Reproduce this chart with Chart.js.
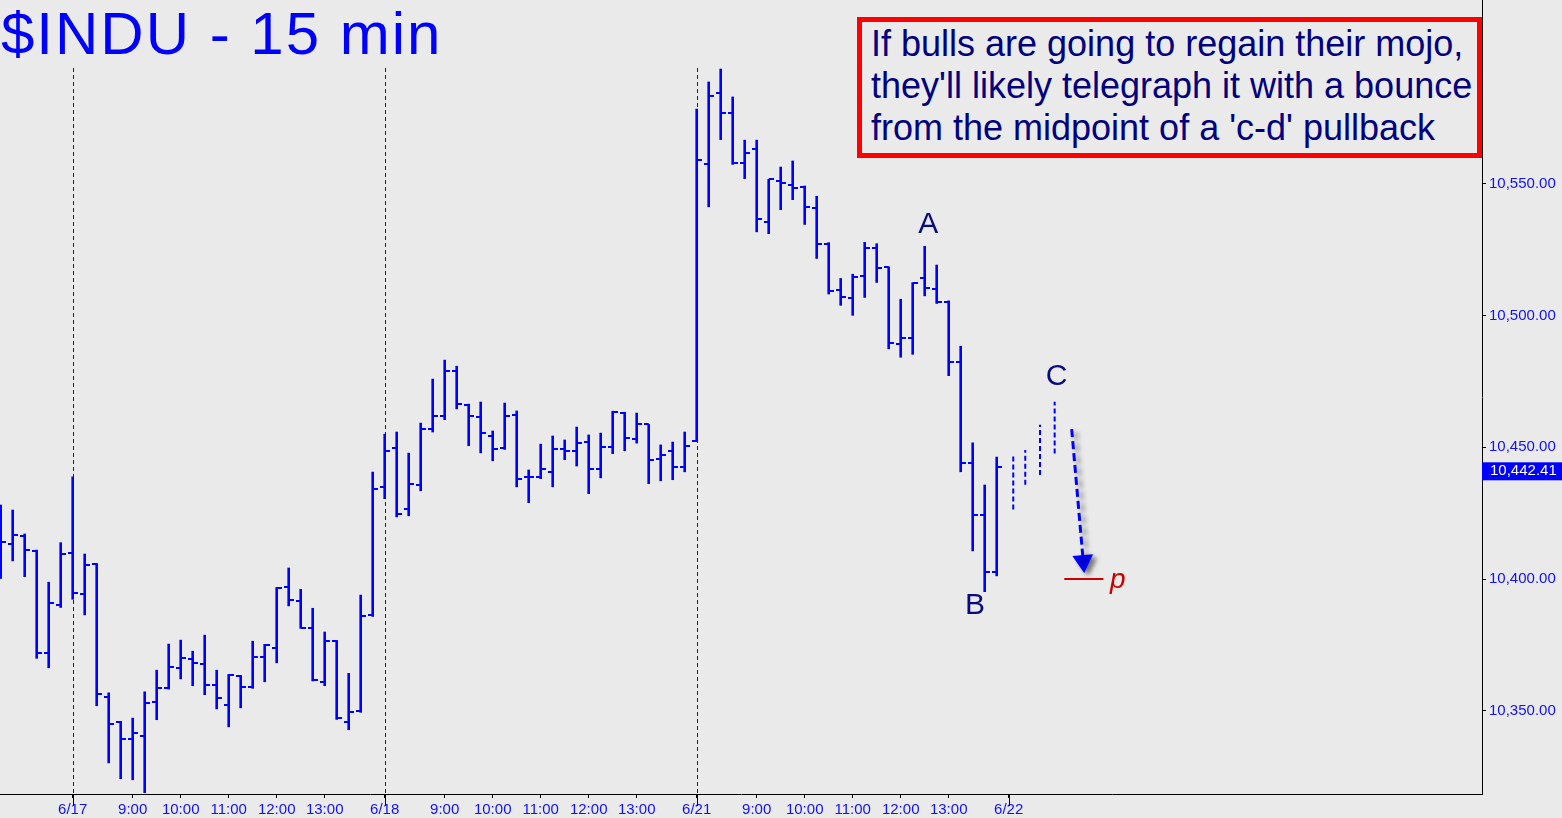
<!DOCTYPE html>
<html>
<head>
<meta charset="utf-8">
<script src="https://cdn.jsdelivr.net/npm/chart.js@4.4.1/dist/chart.umd.min.js"></script>
<style>
  html, body { margin: 0; padding: 0; background: #eaeaea; }
  #wrap { position: relative; width: 1562px; height: 818px; overflow: hidden; background: #eaeaea; }
  #chart { position: absolute; left: 0; top: 0; }
  #title {
    position: absolute; left: 1px; top: 4px;
    font: 60px "Liberation Sans", Arial, sans-serif; line-height: 60px;
    letter-spacing: 2px; color: #0000ff; white-space: nowrap;
  }
  #note {
    position: absolute; left: 857px; top: 17px;
    border: 5px solid #ff0000; box-sizing: content-box;
    font: 36px "Liberation Sans", Arial, sans-serif; line-height: 42px;
    color: #000080; padding: 1px 0 0 9px; width: 606px; height: 130px;
    white-space: nowrap; background: #eaeaea;
  }
</style>
</head>
<body>
<div id="wrap">
  <canvas id="chart" width="1562" height="818"></canvas>
  <div id="title">$INDU - 15 min</div>
  <div id="note">If bulls are going to regain their mojo,<br>they'll likely telegraph it with a bounce<br>from the midpoint of a 'c-d' pullback</div>
</div>
<script>
// 15-minute bars, one per slot, index = bar number
const openP = [10420.0, 10413.3, 10416.4, 10410.7, 10371.9, 10390.1, 10410.0, 10394.3, 10405.8, 10355.3,
  10345.8, 10339.4, 10340.5, 10353.4, 10358.5, 10366.3, 10369.7, 10367.7, 10359.7, 10352.3,
  10363.2, 10359.0, 10370.4, 10373.9, 10397.1, 10391.6, 10381.5, 10360.9, 10376.6, 10345.7,
  10349.9, 10386.2, 10435.0, 10449.8, 10426.6, 10435.7, 10456.9, 10461.9, 10479.1, 10466.0,
  10461.5, 10454.3, 10449.7, 10462.2, 10438.7, 10438.7, 10440.7, 10449.3, 10448.6, 10452.0,
  10441.7, 10450.1, 10463.1, 10453.1, 10458.7, 10445.5, 10448.6, 10442.5, 10452.4, 10557.5,
  10584.6, 10577.0, 10557.9, 10563.3, 10535.5, 10551.2, 10549.6, 10548.7, 10541.0, 10527.2,
  10509.6, 10506.7, 10515.0, 10525.8, 10518.3, 10489.2, 10491.5, 10514.4, 10510.2, 10505.1,
  10482.4, 10443.9, 10424.3, 10402.8];
const highP = [10428.1, 10426.2, 10417.1, 10411.0, 10398.8, 10413.8, 10438.8, 10409.5, 10405.9, 10356.8,
  10346.0, 10347.2, 10357.2, 10365.4, 10375.3, 10376.8, 10372.6, 10378.7, 10365.4, 10363.8,
  10363.4, 10376.4, 10375.2, 10396.8, 10404.2, 10396.1, 10388.9, 10379.9, 10376.7, 10364.2,
  10393.9, 10440.6, 10455.0, 10455.8, 10447.8, 10459.2, 10475.9, 10483.1, 10480.8, 10466.4,
  10467.2, 10456.2, 10466.8, 10463.8, 10441.4, 10451.2, 10454.3, 10452.8, 10457.7, 10454.7,
  10455.4, 10463.7, 10463.3, 10463.0, 10458.7, 10450.9, 10452.0, 10455.8, 10578.4, 10588.7,
  10593.6, 10583.0, 10566.6, 10566.6, 10551.7, 10556.4, 10558.7, 10549.2, 10545.3, 10527.7,
  10514.1, 10515.7, 10527.8, 10527.3, 10518.5, 10506.2, 10512.5, 10526.3, 10519.2, 10505.6,
  10488.4, 10451.7, 10435.7, 10446.3];
const lowP = [10400.2, 10406.9, 10400.9, 10369.9, 10366.3, 10389.2, 10392.3, 10386.4, 10351.9, 10330.2,
  10324.2, 10323.8, 10318.9, 10346.6, 10358.2, 10362.1, 10359.5, 10356.1, 10350.7, 10343.9,
  10351.1, 10358.5, 10361.0, 10368.2, 10389.8, 10381.3, 10361.3, 10359.5, 10346.7, 10342.8,
  10349.4, 10385.8, 10430.5, 10423.6, 10424.0, 10433.5, 10455.8, 10460.5, 10464.6, 10450.6,
  10447.9, 10444.9, 10449.2, 10435.0, 10429.0, 10438.1, 10435.0, 10445.3, 10442.9, 10432.4,
  10438.4, 10447.6, 10448.7, 10451.6, 10436.2, 10437.3, 10437.7, 10440.7, 10452.1, 10541.3,
  10566.8, 10557.4, 10552.0, 10531.8, 10531.1, 10540.2, 10544.0, 10534.6, 10521.7, 10508.2,
  10503.9, 10500.1, 10506.9, 10512.6, 10487.4, 10484.2, 10485.3, 10507.5, 10504.6, 10477.2,
  10440.7, 10410.7, 10395.2, 10401.2];
const closeP = [10413.9, 10416.8, 10411.0, 10372.0, 10391.0, 10409.6, 10394.7, 10405.3, 10356.4, 10344.9,
  10339.1, 10341.4, 10353.0, 10358.7, 10366.7, 10370.1, 10368.2, 10359.7, 10354.8, 10363.4,
  10359.1, 10370.4, 10374.9, 10396.7, 10392.0, 10381.6, 10361.5, 10376.6, 10347.1, 10349.6,
  10385.9, 10434.3, 10448.7, 10424.7, 10436.1, 10456.9, 10461.9, 10479.1, 10466.5, 10462.0,
  10455.5, 10449.3, 10462.0, 10438.1, 10438.7, 10441.9, 10449.3, 10448.6, 10451.7, 10441.7,
  10450.2, 10463.4, 10453.5, 10458.9, 10445.2, 10447.2, 10442.5, 10450.6, 10559.1, 10583.5,
  10577.0, 10557.8, 10561.8, 10536.7, 10551.7, 10550.3, 10548.5, 10541.3, 10527.2, 10509.2,
  10506.9, 10514.8, 10525.8, 10518.2, 10489.6, 10491.5, 10512.5, 10510.3, 10505.0, 10482.3,
  10443.9, 10424.3, 10402.8, 10442.41];

// x-axis ticks (bar index) and their labels
const tickPos = [6, 11, 15, 19, 23, 27, 32, 37, 41, 45, 49, 53, 58, 63, 67, 71, 75, 79, 84];
const tickText = ['6/17', '9:00', '10:00', '11:00', '12:00', '13:00',
  '6/18', '9:00', '10:00', '11:00', '12:00', '13:00',
  '6/21', '9:00', '10:00', '11:00', '12:00', '13:00', '6/22'];
const dayPos = [6, 32, 58, 84];
const sepPos = [6, 32, 58];
const yTicks = [10350, 10400, 10450, 10500, 10550];

// hand-drawn projection
const projX = [84.38, 85.38, 86.61, 87.83];
const projLow = [10426.4, 10435.8, 10439.5, 10447.7];
const projHigh = [10447.1, 10449.0, 10458.6, 10467.3];
const arrowX = [89.25, 90.21];
const arrowY = [10456.9, 10406.8];
const targetX = [88.63, 91.89];
const targetY = 10400;

const labelText = ['A', 'B', 'C', 'p'];
const labelX = [77.3, 81.2, 88.0, 93.1];
const labelY = [10534.4, 10389.7, 10476.7, 10399.6];

const lastPrice = closeP[closeP.length - 1];

const xMin = -0.7 / 12;
const xMax = xMin + 1482 / 12;
const yMin = 10318.4;
const yMax = 10619.8;

Chart.defaults.font.family = '"Liberation Sans", Arial, sans-serif';

function fmt(v) {
  const s = Number(v).toFixed(2).split('.');
  return s[0].replace(/\B(?=(\d{3})+(?!\d))/g, ',') + '.' + s[1];
}

function tickImg(side) {
  const c = document.createElement('canvas');
  c.width = 10; c.height = 2;
  const g = c.getContext('2d');
  g.fillStyle = '#0000ff';
  if (side === 'left') g.fillRect(0, 0, 5, 2); else g.fillRect(5, 0, 5, 2);
  return c;
}

const hl = openP.map((o, i) => ({x: i, y: [lowP[i], highP[i]]}));
const opens = openP.map((o, i) => ({x: i, y: o}));
const closes = closeP.map((c, i) => ({x: i, y: c}));

const datasets = [
  {type: 'bar', data: hl, backgroundColor: '#0000ff', barThickness: 2, borderWidth: 0},
  {type: 'line', data: opens, showLine: false, pointStyle: tickImg('left'), pointRadius: 3},
  {type: 'line', data: closes, showLine: false, pointStyle: tickImg('right'), pointRadius: 3}
];
projX.forEach((px, i) => {
  datasets.push({type: 'line', data: [{x: px, y: projLow[i]}, {x: px, y: projHigh[i]}],
    borderColor: '#0000ff', borderWidth: 2, borderDash: [5, 3], pointRadius: 0});
});
const arrowIdx = datasets.length;
datasets.push({type: 'line', data: arrowX.map((v, i) => ({x: v, y: arrowY[i]})),
  borderColor: '#0000ff', borderWidth: 3, borderDash: [8, 4],
  pointRadius: [0, 9], pointStyle: 'triangle', rotation: 175,
  pointBackgroundColor: '#0000ff', pointBorderColor: '#0000ff'});
datasets.push({type: 'line', data: targetX.map(v => ({x: v, y: targetY})),
  borderColor: '#cc0000', borderWidth: 2, pointRadius: 0});

const decorPlugin = {
  id: 'decor',
  beforeDatasetsDraw(chart) {
    const {ctx, chartArea, scales: {x}} = chart;
    ctx.save();
    ctx.strokeStyle = '#222222';
    ctx.lineWidth = 1;
    ctx.setLineDash([4, 3]);
    sepPos.forEach(v => {
      const px = Math.round(x.getPixelForValue(v)) + 0.5;
      ctx.beginPath(); ctx.moveTo(px, 68); ctx.lineTo(px, chartArea.bottom); ctx.stroke();
    });
    ctx.restore();
  },
  beforeDatasetDraw(chart, args) {
    if (args.index === arrowIdx) {
      const ctx = chart.ctx;
      ctx.save();
      ctx.shadowColor = 'rgba(0,0,0,0.45)';
      ctx.shadowBlur = 5;
      ctx.shadowOffsetX = 4;
      ctx.shadowOffsetY = 3;
    }
  },
  afterDatasetDraw(chart, args) {
    if (args.index === arrowIdx) chart.ctx.restore();
  },
  afterDraw(chart) {
    const {ctx, chartArea, scales: {x, y}} = chart;
    ctx.save();
    // day ticks
    ctx.strokeStyle = '#000';
    ctx.lineWidth = 1;
    dayPos.forEach(v => {
      const px = Math.round(x.getPixelForValue(v)) + 0.5;
      ctx.beginPath(); ctx.moveTo(px, chartArea.bottom); ctx.lineTo(px, chartArea.bottom + 12); ctx.stroke();
    });
    // wave labels
    ctx.textAlign = 'center';
    ctx.textBaseline = 'middle';
    labelText.forEach((t, i) => {
      if (t === 'p') {
        ctx.font = 'italic 28px "Liberation Sans", Arial, sans-serif';
        ctx.fillStyle = '#cc0000';
      } else {
        ctx.font = '30px "Liberation Sans", Arial, sans-serif';
        ctx.fillStyle = '#0a0a80';
      }
      ctx.fillText(t, x.getPixelForValue(labelX[i]), y.getPixelForValue(labelY[i]));
    });
    // last price box
    const py = y.getPixelForValue(lastPrice) + 4;
    ctx.fillStyle = '#0000ff';
    ctx.fillRect(chartArea.right, py - 9, chart.width - chartArea.right, 18);
    ctx.fillStyle = '#ffffff';
    ctx.font = '15px "Liberation Sans", Arial, sans-serif';
    ctx.textAlign = 'left';
    ctx.fillText(fmt(lastPrice), chartArea.right + 8, py);
    ctx.restore();
  }
};

new Chart(document.getElementById('chart').getContext('2d'), {
  type: 'bar',
  data: {datasets: datasets},
  options: {
    responsive: false,
    animation: false,
    layout: {padding: 0, autoPadding: false},
    plugins: {legend: {display: false}, tooltip: {enabled: false}},
    scales: {
      x: {
        type: 'linear', min: xMin, max: xMax, offset: false,
        afterBuildTicks: s => { s.ticks = tickPos.map(v => ({value: v})); },
        afterFit: s => { s.height = 24; s.paddingLeft = 0; s.paddingRight = 0; },
        grid: {drawOnChartArea: false, offset: false, tickLength: 4, color: '#000'},
        border: {color: '#000', width: 1},
        ticks: {autoSkip: false, maxRotation: 0, padding: 3, color: '#1010ff',
          font: {size: 15}, callback: (v, i) => tickText[i]}
      },
      y: {
        position: 'right', min: yMin, max: yMax,
        afterBuildTicks: s => { s.ticks = yTicks.map(v => ({value: v})); },
        afterFit: s => { s.width = 80; s.paddingTop = 0; s.paddingBottom = 0; },
        grid: {drawOnChartArea: false, tickLength: 4, color: '#000'},
        border: {color: '#000', width: 1},
        ticks: {padding: 3, color: '#1010ff', font: {size: 15}, callback: v => fmt(v)}
      }
    }
  },
  plugins: [decorPlugin]
});
</script>
</body>
</html>
